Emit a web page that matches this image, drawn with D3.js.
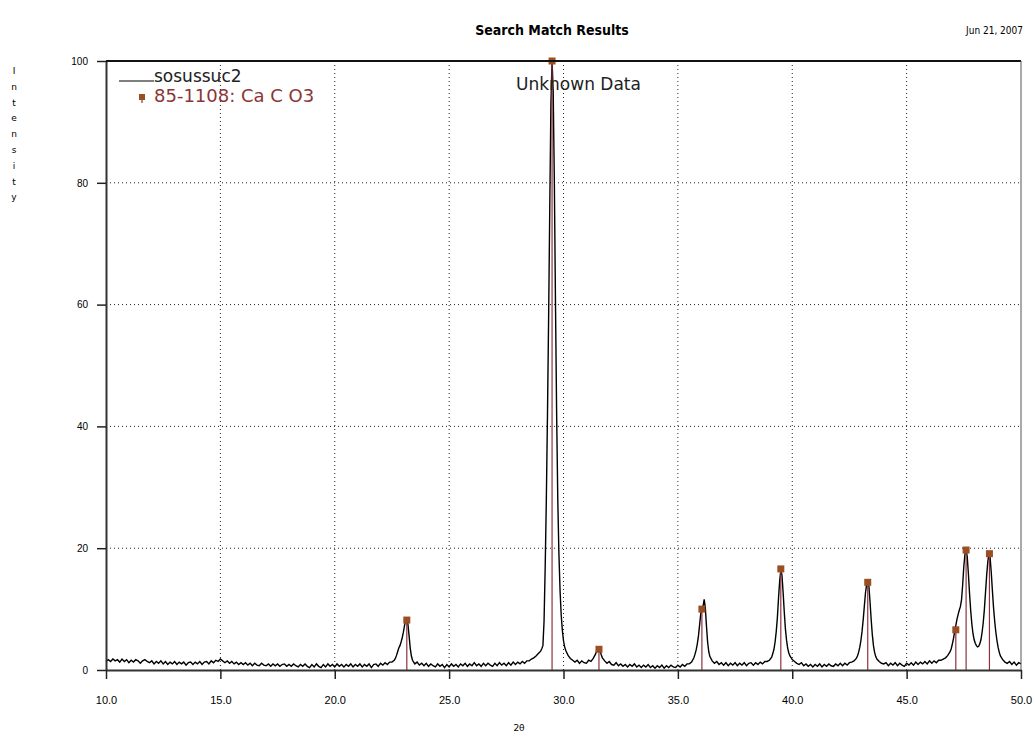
<!DOCTYPE html>
<html>
<head>
<meta charset="utf-8">
<script src="https://cdn.jsdelivr.net/npm/d3@7"></script>
<style>
  body { margin: 0; background: #fff; }
  svg { display: block; font-family: "DejaVu Sans", Verdana, sans-serif; }
</style>
</head>
<body>
<svg width="1036" height="738"></svg>
<script>
// measured pattern sosussuc2: [2theta, intensity %]
var measured = [
  [10.0,1.4],[10.1,1.7],[10.2,1.4],[10.3,1.8],[10.4,1.5],[10.5,1.7],[10.6,1.3],[10.7,1.8],[10.8,1.4],[10.9,1.7],
  [11.0,1.2],[11.1,1.6],[11.2,1.3],[11.3,1.7],[11.4,1.5],[11.5,1.1],[11.6,1.5],[11.7,1.7],[11.8,1.4],[11.9,1.2],
  [12.0,1.5],[12.1,1.0],[12.2,1.4],[12.3,1.1],[12.4,1.5],[12.5,1.0],[12.6,1.4],[12.7,0.9],[12.8,1.3],[12.9,1.0],
  [13.0,1.4],[13.1,0.9],[13.2,1.3],[13.3,1.0],[13.4,1.3],[13.5,0.8],[13.6,1.2],[13.7,1.3],[13.8,0.9],[13.9,1.3],
  [14.0,1.0],[14.1,1.4],[14.2,0.9],[14.3,1.3],[14.4,1.4],[14.5,1.0],[14.6,1.5],[14.7,1.2],[14.8,1.6],[14.9,1.4],
  [15.0,1.8],[15.1,1.5],[15.2,1.2],[15.3,1.5],[15.4,1.1],[15.5,1.4],[15.6,1.0],[15.7,1.3],[15.8,0.9],[15.9,1.2],
  [16.0,0.9],[16.1,1.2],[16.2,0.8],[16.3,1.1],[16.4,0.7],[16.5,1.1],[16.6,0.8],[16.7,0.7],[16.8,1.1],[16.9,0.8],
  [17.0,0.7],[17.1,1.0],[17.2,0.6],[17.3,1.0],[17.4,0.7],[17.5,1.0],[17.6,0.6],[17.7,0.9],[17.8,1.0],[17.9,0.6],
  [18.0,0.9],[18.1,0.6],[18.2,1.0],[18.3,0.7],[18.4,0.5],[18.5,0.9],[18.6,0.6],[18.7,1.0],[18.8,0.6],[18.9,0.4],
  [19.0,0.9],[19.1,0.5],[19.2,1.0],[19.3,0.6],[19.4,0.4],[19.5,0.9],[19.6,0.5],[19.7,1.0],[19.8,0.6],[19.9,0.9],
  [20.0,0.5],[20.1,1.0],[20.2,0.6],[20.3,0.9],[20.4,0.5],[20.5,0.9],[20.6,0.6],[20.7,1.0],[20.8,0.5],[20.9,0.9],
  [21.0,0.6],[21.1,1.0],[21.2,0.5],[21.3,0.9],[21.4,0.6],[21.5,1.0],[21.6,0.4],[21.7,0.9],[21.8,1.0],[21.9,0.6],
  [22.0,1.1],[22.1,0.8],[22.2,1.2],[22.3,0.9],[22.4,1.3],[22.5,1.3],[22.6,1.6],[22.65,1.9],[22.7,2.4],[22.75,3.0],
  [22.8,3.6],[22.85,4.0],[22.9,4.6],[22.95,5.3],[23.0,6.2],[23.05,7.3],[23.1,8.1],[23.15,8.3],[23.2,7.5],[23.25,5.6],
  [23.3,3.6],[23.35,2.3],[23.4,1.6],[23.45,1.3],[23.5,1.0],[23.6,1.3],[23.7,0.8],[23.8,1.1],[23.9,0.7],
  [24.0,1.1],[24.1,0.6],[24.2,1.0],[24.3,0.7],[24.4,0.5],[24.5,1.0],[24.6,0.6],[24.7,0.9],[24.8,0.4],[24.9,0.9],
  [25.0,0.5],[25.1,1.0],[25.2,0.6],[25.3,0.9],[25.4,0.5],[25.5,1.0],[25.6,0.7],[25.7,1.1],[25.8,0.6],[25.9,1.0],
  [26.0,0.7],[26.1,1.2],[26.2,0.7],[26.3,1.0],[26.4,0.6],[26.5,1.1],[26.6,0.7],[26.7,1.1],[26.8,0.8],[26.9,0.6],
  [27.0,1.1],[27.1,0.7],[27.2,1.2],[27.3,0.8],[27.4,1.1],[27.5,0.7],[27.6,1.2],[27.7,0.8],[27.8,1.3],[27.9,0.9],
  [28.0,1.3],[28.1,1.0],[28.2,1.4],[28.3,1.1],[28.4,1.5],[28.5,1.5],[28.6,1.8],[28.7,2.0],[28.8,2.3],[28.9,2.7],
  [29.0,3.1],[29.05,3.5],[29.1,4.0],[29.15,8],[29.2,17],[29.25,28],[29.3,42],[29.35,58],[29.4,76],[29.45,93],
  [29.5,100],[29.55,95],[29.6,80],[29.65,60],[29.7,42],[29.75,28],[29.8,19],[29.85,13],[29.9,9],[29.95,6.5],
  [30.0,4.8],[30.05,3.8],[30.1,3.2],[30.15,2.8],[30.2,2.4],[30.3,1.9],[30.4,1.6],[30.5,1.3],[30.6,1.6],[30.7,1.1],
  [30.8,1.5],[30.9,1.2],[31.0,1.1],[31.1,1.6],[31.2,1.4],[31.3,1.9],[31.4,2.6],[31.45,3.1],[31.5,3.5],[31.55,3.6],
  [31.6,3.1],[31.65,2.5],[31.7,2.0],[31.8,1.5],[31.9,1.1],[32.0,1.4],[32.1,0.9],[32.2,0.8],[32.3,1.2],[32.4,0.7],
  [32.5,1.0],[32.6,0.6],[32.7,0.9],[32.8,0.5],[32.9,0.9],[33.0,0.6],[33.1,1.0],[33.2,0.5],[33.3,0.8],[33.4,0.4],
  [33.5,0.8],[33.6,0.5],[33.7,0.9],[33.8,0.4],[33.9,0.7],[34.0,0.3],[34.1,0.7],[34.2,0.4],[34.3,0.8],[34.4,0.3],
  [34.5,0.7],[34.6,0.4],[34.7,0.8],[34.8,0.5],[34.9,0.4],[35.0,0.8],[35.1,0.5],[35.2,0.9],[35.3,0.6],[35.4,1.0],
  [35.5,1.0],[35.6,1.3],[35.7,2.0],[35.75,2.6],[35.8,3.3],[35.85,4.3],[35.9,5.6],[35.95,7.4],[36.0,9.2],[36.05,10.0],
  [36.1,10.4],[36.15,11.6],[36.2,10.2],[36.25,7.2],[36.3,4.6],[36.35,3.0],[36.4,2.2],[36.5,1.5],[36.6,1.1],[36.7,1.4],
  [36.8,0.9],[36.9,1.2],[37.0,0.8],[37.1,1.2],[37.2,0.7],[37.3,1.1],[37.4,0.8],[37.5,1.2],[37.6,0.7],[37.7,1.1],
  [37.8,0.8],[37.9,1.2],[38.0,0.7],[38.1,1.1],[38.2,1.2],[38.3,0.8],[38.4,1.2],[38.5,0.9],[38.6,1.3],[38.7,1.0],
  [38.8,1.4],[38.9,1.4],[39.0,1.6],[39.1,2.1],[39.15,2.7],[39.2,3.4],[39.25,4.6],[39.3,6.3],[39.35,8.6],[39.4,11.8],
  [39.45,14.6],[39.5,16.4],[39.55,15.6],[39.6,12.8],[39.65,9.6],[39.7,6.8],[39.75,4.9],[39.8,3.6],[39.85,2.8],[39.9,2.3],
  [40.0,1.7],[40.1,1.4],[40.2,1.1],[40.3,0.9],[40.4,1.2],[40.5,0.7],[40.6,1.0],[40.7,0.6],[40.8,0.9],[40.9,0.5],
  [41.0,0.9],[41.1,0.6],[41.2,1.0],[41.3,0.5],[41.4,0.9],[41.5,0.6],[41.6,1.0],[41.7,0.7],[41.8,0.6],[41.9,1.0],
  [42.0,0.7],[42.1,1.1],[42.2,0.7],[42.3,1.1],[42.4,0.8],[42.5,1.2],[42.6,1.3],[42.7,1.5],[42.8,1.9],[42.85,2.3],
  [42.9,2.9],[42.95,3.7],[43.0,4.8],[43.05,6.3],[43.1,8.2],[43.15,10.4],[43.2,12.6],[43.25,14.0],[43.3,14.7],[43.35,13.8],
  [43.4,11.2],[43.45,8.3],[43.5,5.8],[43.55,4.0],[43.6,2.9],[43.65,2.2],[43.7,1.8],[43.8,1.4],[43.9,1.1],
  [44.0,1.0],[44.1,1.2],[44.2,0.7],[44.3,1.1],[44.4,0.8],[44.5,1.2],[44.6,0.7],[44.7,1.1],[44.8,0.8],[44.9,0.6],
  [45.0,1.1],[45.1,0.8],[45.2,1.2],[45.3,0.8],[45.4,1.3],[45.5,0.9],[45.6,1.3],[45.7,1.0],[45.8,1.4],[45.9,1.0],
  [46.0,1.5],[46.1,1.1],[46.2,1.5],[46.3,1.2],[46.4,1.6],[46.5,1.6],[46.6,1.8],[46.7,2.0],[46.8,2.4],[46.9,3.0],
  [46.95,3.5],[47.0,4.3],[47.05,5.2],[47.1,6.3],[47.15,7.3],[47.2,8.3],[47.25,9.1],[47.3,9.8],[47.35,10.4],[47.4,11.5],
  [47.45,14.0],[47.5,17.0],[47.55,19.0],[47.6,19.8],[47.65,18.6],[47.7,15.8],[47.75,12.6],[47.8,9.8],[47.85,7.6],[47.9,6.0],
  [47.95,5.0],[48.0,4.4],[48.05,4.0],[48.1,3.8],[48.15,3.9],[48.2,4.3],[48.25,5.0],[48.3,6.2],[48.35,7.8],[48.4,10.0],
  [48.45,12.8],[48.5,15.6],[48.55,17.8],[48.6,19.2],[48.65,18.4],[48.7,16.0],[48.75,13.0],[48.8,10.2],[48.85,8.0],[48.9,6.2],
  [48.95,4.8],[49.0,3.7],[49.05,2.9],[49.1,2.3],[49.2,1.7],[49.3,1.3],[49.4,1.1],[49.5,1.4],[49.6,0.9],[49.7,1.3],
  [49.8,0.8],[49.9,1.2],[50.0,1.0]
];

// reference pattern 85-1108: Ca C O3
var refAngles = [23.15, 29.5, 31.55, 36.05, 39.5, 43.3, 47.15, 47.6, 48.62];
var refHeights = [8.2, 100, 3.4, 10.0, 16.6, 14.4, 6.6, 19.7, 19.1];

var xTicks = [10, 15, 20, 25, 30, 35, 40, 45, 50];
var yTicks = [0, 20, 40, 60, 80, 100];
var xGrid = [15, 20, 25, 30, 35, 40, 45];
var yGrid = [20, 40, 60, 80];

var svg = d3.select("svg"),
    margin = {top: 61, right: 15, bottom: 68, left: 106},
    width = +svg.attr("width") - margin.left - margin.right,
    height = +svg.attr("height") - margin.top - margin.bottom;

var stickColor = "#8a3340",
    markColor = "#9a4e22";

var x = d3.scaleLinear().domain([10, 50]).range([0, width]),
    y = d3.scaleLinear().domain([0, 100]).range([height, 0]);

var g = svg.append("g")
    .attr("transform", "translate(" + margin.left + "," + margin.top + ")");

// dotted grid
g.selectAll(".vgrid")
  .data(xGrid)
  .enter().append("line")
    .attr("class", "vgrid")
    .attr("x1", function(d) { return x(d); })
    .attr("x2", function(d) { return x(d); })
    .attr("y1", 0)
    .attr("y2", height)
    .attr("stroke", "#222")
    .attr("stroke-dasharray", "1,3");

g.selectAll(".hgrid")
  .data(yGrid)
  .enter().append("line")
    .attr("class", "hgrid")
    .attr("x1", 0)
    .attr("x2", width)
    .attr("y1", function(d) { return y(d); })
    .attr("y2", function(d) { return y(d); })
    .attr("stroke", "#222")
    .attr("stroke-dasharray", "1,3");

// measured trace
var line = d3.line()
    .x(function(d) { return x(d[0]); })
    .y(function(d) { return y(d[1]); });

g.append("path")
    .datum(measured)
    .attr("fill", "none")
    .attr("stroke", "#000")
    .attr("stroke-width", 1.4)
    .attr("d", line);

// reference sticks
var refs = refAngles.map(function(a, i) { return {angle: a, h: refHeights[i]}; });

g.selectAll(".stick")
  .data(refs)
  .enter().append("line")
    .attr("class", "stick")
    .attr("x1", function(d) { return x(d.angle); })
    .attr("x2", function(d) { return x(d.angle); })
    .attr("y1", y(0))
    .attr("y2", function(d) { return y(d.h); })
    .attr("stroke", stickColor)
    .attr("stroke-width", 1.2);

g.selectAll(".mark")
  .data(refs)
  .enter().append("rect")
    .attr("class", "mark")
    .attr("x", function(d) { return x(d.angle) - 3.5; })
    .attr("y", function(d) { return y(d.h) - 3.5; })
    .attr("width", 7)
    .attr("height", 7)
    .attr("fill", markColor);

// axes
var xAxis = d3.axisBottom(x).tickValues(xTicks).tickFormat(d3.format(".1f")).tickSize(9).tickSizeOuter(0).tickPadding(17),
    yAxis = d3.axisLeft(y).tickValues(yTicks).tickSize(9).tickSizeOuter(0).tickPadding(9);

var gx = g.append("g")
    .attr("transform", "translate(0," + height + ")")
    .call(xAxis);
gx.select(".domain").attr("stroke", "#333").attr("stroke-width", 2);
gx.selectAll(".tick line").attr("stroke", "#222").attr("stroke-width", 1.5);
gx.selectAll("text").attr("font-size", 11).attr("fill", "#000");

var gy = g.append("g").call(yAxis);
gy.select(".domain").attr("stroke", "#333").attr("stroke-width", 2);
gy.selectAll(".tick line").attr("stroke", "#222").attr("stroke-width", 1.5);
gy.selectAll("text").attr("font-size", 10).attr("fill", "#000");

// frame top / right
g.append("line")
    .attr("x1", 0).attr("x2", width)
    .attr("y1", 0).attr("y2", 0)
    .attr("stroke", "#111").attr("stroke-width", 2);
g.append("line")
    .attr("x1", width).attr("x2", width)
    .attr("y1", 0).attr("y2", height)
    .attr("stroke", "#555").attr("stroke-width", 1);

// titles
svg.append("text")
    .attr("x", 552).attr("y", 35)
    .attr("text-anchor", "middle")
    .attr("font-family", "'DejaVu Sans Condensed', 'DejaVu Sans', sans-serif")
    .attr("font-weight", "bold")
    .attr("font-size", 14)
    .attr("fill", "#000")
    .text("Search Match Results");

svg.append("text")
    .attr("x", 1023).attr("y", 34)
    .attr("text-anchor", "end")
    .attr("font-family", "'DejaVu Sans Condensed', 'DejaVu Sans', sans-serif")
    .attr("font-size", 10)
    .attr("fill", "#000")
    .text("Jun 21, 2007");

svg.append("text")
    .attr("x", 519).attr("y", 731)
    .attr("text-anchor", "middle")
    .attr("font-size", 9)
    .attr("fill", "#000")
    .text("2θ");

// vertical "Intensity" label, one letter per row
var yLabel = "Intensity".split("");
svg.selectAll(".ylab")
  .data(yLabel)
  .enter().append("text")
    .attr("class", "ylab")
    .attr("x", 14)
    .attr("y", function(d, i) { return 74 + i * 15.8; })
    .attr("text-anchor", "middle")
    .attr("font-size", 9)
    .attr("fill", "#000")
    .text(function(d) { return d; });

// annotation
g.append("text")
    .attr("x", 410).attr("y", 29)
    .attr("font-size", 17)
    .attr("fill", "#222")
    .text("Unknown Data");

// legend
var legend = g.append("g");
legend.append("line")
    .attr("x1", 13).attr("x2", 48)
    .attr("y1", 20).attr("y2", 20)
    .attr("stroke", "#000").attr("stroke-width", 1.2);
legend.append("text")
    .attr("x", 48).attr("y", 21)
    .attr("font-size", 17)
    .attr("fill", "#222")
    .text("sosussuc2");
legend.append("line")
    .attr("x1", 36).attr("x2", 36)
    .attr("y1", 36).attr("y2", 42)
    .attr("stroke", stickColor).attr("stroke-width", 1.2);
legend.append("rect")
    .attr("x", 33).attr("y", 33)
    .attr("width", 6).attr("height", 6)
    .attr("fill", markColor);
legend.append("text")
    .attr("x", 48).attr("y", 41)
    .attr("font-size", 18)
    .attr("fill", "#8b3535")
    .text("85-1108: Ca C O3");
</script>
</body>
</html>
